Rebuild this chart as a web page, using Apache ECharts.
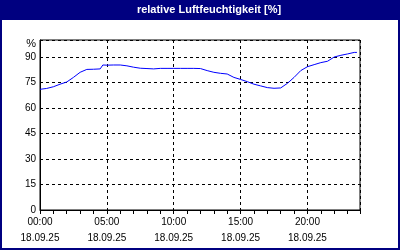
<!DOCTYPE html>
<html><head><meta charset="utf-8">
<script src="https://cdn.jsdelivr.net/npm/echarts@6/dist/echarts.min.js"></script>
<style>html,body{margin:0;padding:0;background:#fff}#c{width:400px;height:250px}</style>
</head><body><div id="c"></div>
<script>
// hours since 00:00 on 18.09.25
const hours = [0,0.5,1,1.5,2,2.5,3,3.5,4,4.5,4.7,5,5.5,6,6.5,7,7.5,8,8.5,9,9.5,10,10.5,11,11.5,12,12.5,13,13.5,14,14.5,15,15.5,16,16.5,17,17.5,18,18.5,19,19.5,20,20.5,21,21.5,22,22.5,23,23.5,23.7];
const humidity = [71,71.5,72.5,74,75.3,78,81,82.7,82.8,83,85.3,85.2,85.3,85.3,84.8,84,83.4,83.2,83,83.3,83.3,83.3,83.3,83.3,83.3,83.2,82,81,80.4,80,78,76.8,75.5,74,73,72,71.6,71.8,74.5,78,82,84.3,85.5,86.7,87.5,90,91,91.8,92.7,92.7];
const yTicks = [0,15,30,45,60,75,90];
const dateLabel = '18.09.25';
const titleText = 'relative Luftfeuchtigkeit [%]';

const chart = echarts.init(document.getElementById('c'), null, {renderer:'canvas'});
const font = 'Liberation Sans';
const pad = n => (n<10?'0':'')+n;
chart.setOption({
  animation:false,
  backgroundColor:'#fff',
  graphic:[
    {type:'rect', shape:{x:0,y:0,width:400,height:20}, style:{fill:'#000080'}, z:10},
    {type:'rect', shape:{x:1,y:1,width:398,height:248}, style:{fill:null, stroke:'#000080', lineWidth:2}, z:10},
    {type:'text', x:209, y:10, style:{text:titleText, fill:'#fff', font:'bold 11px "Liberation Sans"', align:'center', verticalAlign:'middle'}, z:11}
  ],
  grid:{left:40,top:40,right:40,bottom:40,show:true,borderColor:'#000',borderWidth:1,backgroundColor:'transparent'},
  xAxis:[{
    type:'value', min:0, max:23.93, interval:5,
    axisLine:{lineStyle:{color:'#000',width:1}},
    axisTick:{show:true,length:4,lineStyle:{color:'#000'}},
    axisLabel:{margin:4, color:'#000', fontFamily:font, fontSize:10, lineHeight:16, showMaxLabel:false,
      formatter:v=> (Math.abs(v-Math.round(v))<1e-6 && v%5===0) ? pad(v)+':00\n'+dateLabel : ''},
    splitLine:{show:true,lineStyle:{color:'#000',type:[3,3],width:1}}
  },{
    type:'value', min:0, max:23.93, interval:1, position:'bottom',
    axisLine:{show:false},
    axisTick:{show:true,length:4,lineStyle:{color:'#000'}},
    axisLabel:{show:false}, splitLine:{show:false}
  }],
  yAxis:{
    type:'value', min:0, max:100, interval:15,
    axisLine:{show:true,lineStyle:{color:'#000'}},
    axisTick:{show:false},
    axisLabel:{margin:4, color:'#000', fontFamily:font, fontSize:10,
      rich:{p:{fontFamily:font,fontSize:11,color:'#000',padding:[7,0,0,0]}},
      formatter:v=> v===100 ? '{p|%}' : (yTicks.indexOf(v)>=0 ? String(v) : '')},
    splitLine:{show:true,lineStyle:{color:'#000',type:[3,3],width:1}}
  },
  series:[{
    type:'line', xAxisIndex:0, showSymbol:false, symbol:'none',
    lineStyle:{color:'#0000ff',width:1},
    data: hours.map((h,i)=>[h,humidity[i]])
  }]
});
</script></body></html>
